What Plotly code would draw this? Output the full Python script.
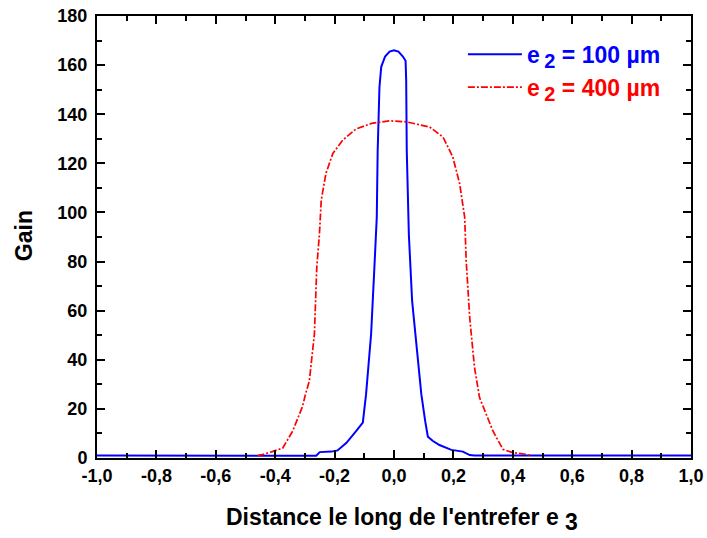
import plotly.graph_objects as go

# ---- data ----
x_100 = [-1.0, -0.28, -0.262, -0.25, -0.23, -0.21, -0.19, -0.16, -0.127, -0.105, -0.094,
         -0.077, -0.066, -0.058, -0.055, -0.049, -0.043, -0.03, -0.015, 0.0, 0.015, 0.03,
         0.039, 0.041, 0.043, 0.05, 0.061, 0.078, 0.086, 0.092, 0.105, 0.114, 0.13, 0.153,
         0.193, 0.232, 0.255, 0.27, 1.0]
y_100 = [1, 1, 0.9, 2.4, 2.4, 2.6, 3.1, 6.2, 11, 14.4, 26,
         50.6, 77.7, 98, 125, 151, 159.3, 163.5, 165.5, 166, 165.5, 163.5,
         161.8, 153.9, 125, 91, 64, 43.7, 33, 26, 15, 8.7, 7, 5.3,
         3.3, 2.6, 1.2, 1, 1]

x_400 = [-0.46, -0.44, -0.41, -0.375, -0.341, -0.308, -0.298, -0.285, -0.268, -0.26, -0.251,
         -0.245, -0.229, -0.206, -0.173, -0.128, -0.072, -0.015, 0.041, 0.12, 0.165, 0.198,
         0.221, 0.238, 0.243, 0.255, 0.271, 0.288, 0.3, 0.333, 0.367, 0.4, 0.446, 0.46]
y_400 = [1, 1.5, 2.6, 4, 11, 21, 26, 31.4, 50.5, 77.7, 91.3,
         105, 116, 124, 129.4, 134, 136.4, 137.3, 136.9, 134.8, 130.7, 122.6,
         111.7, 98, 80.4, 57, 36.9, 24.6, 21, 11, 3.5, 2.2, 1.5, 1]

x_tick_vals = [-1.0, -0.8, -0.6, -0.4, -0.2, 0.0, 0.2, 0.4, 0.6, 0.8, 1.0]
x_tick_text = ["-1,0", "-0,8", "-0,6", "-0,4", "-0,2", "0,0", "0,2", "0,4", "0,6", "0,8", "1,0"]
y_tick_vals = [0, 20, 40, 60, 80, 100, 120, 140, 160, 180]
y_tick_text = ["0", "20", "40", "60", "80", "100", "120", "140", "160", "180"]

series_names = [
    "<b><span style='color:#0000ff'>e\u2009<sub><span style='font-size:20px'>2</span></sub> = 100 µm</span></b>",
    "<b><span style='color:#ff0000'>e\u2009<sub><span style='font-size:20px'>2</span></sub> = 400 µm</span></b>",
]
x_title = "<b>Distance le long de l'entrefer e <sub><span style='font-size:23px'>3</span></sub></b>"
y_title = "<b>Gain</b>"

fig = go.Figure()
fig.add_trace(go.Scatter(x=x_100, y=y_100, mode="lines", name=series_names[0],
                         legendgroup="a",
                         line=dict(color="#0000ff", width=2)))
fig.add_trace(go.Scatter(x=x_400, y=y_400, mode="lines", name=series_names[1],
                         legendgroup="b",
                         line=dict(color="#ff0000", width=1.7, dash="7px,2px,2px,2px")))

font_main = dict(family="Arial, Liberation Sans, sans-serif", color="black")

axis_common = dict(
    showline=True, linecolor="black", linewidth=2, mirror="allticks",
    ticks="inside", ticklen=8, tickwidth=2, tickcolor="black",
    showgrid=False, zeroline=False, automargin=False,
    tickfont=dict(size=18, **font_main),
)

fig.update_xaxes(range=[-1.0, 1.0], tickvals=x_tick_vals,
                 ticktext=["<b>" + t + "</b>" for t in x_tick_text],
                 minor=dict(ticks="inside", ticklen=5, tickwidth=2, tickcolor="black", dtick=0.1),
                 **axis_common)
fig.update_yaxes(range=[0, 180], tickvals=y_tick_vals,
                 ticktext=["<b>" + t + "</b>" for t in y_tick_text],
                 minor=dict(ticks="inside", ticklen=5, tickwidth=2, tickcolor="black", dtick=10),
                 ticklabelstandoff=4,
                 **axis_common)

fig.add_annotation(text=x_title, xref="paper", yref="paper", x=0.513, y=-0.14,
                   xanchor="center", yanchor="middle", showarrow=False,
                   font=dict(size=23, **font_main))
fig.add_annotation(text=y_title, xref="paper", yref="paper", x=-0.123, y=0.504,
                   xanchor="center", yanchor="middle", showarrow=False, textangle=-90,
                   font=dict(size=23, **font_main))

fig.update_layout(
    width=707, height=538,
    margin=dict(l=97, r=16, t=16, b=80),
    plot_bgcolor="white", paper_bgcolor="white",
    font=dict(size=18, **font_main),
    legend=dict(x=0.616, y=0.962, xanchor="left", yanchor="top",
                bgcolor="rgba(0,0,0,0)", font=dict(size=23, **font_main),
                tracegroupgap=0, itemwidth=54),
    showlegend=True,
)

fig.write_html("out.html", config={"displayModeBar": False},
               post_script="document.body.style.margin='0';document.body.style.overflow='hidden';")
